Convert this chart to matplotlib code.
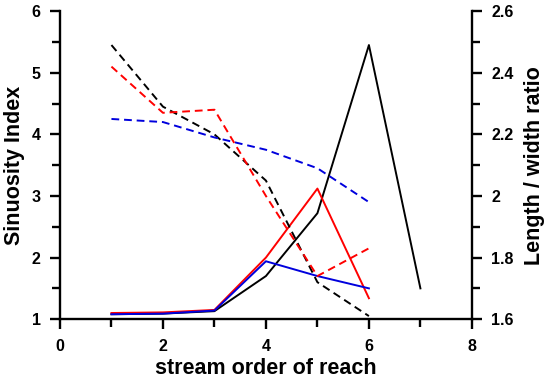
import matplotlib
matplotlib.use("Agg")
import matplotlib.pyplot as plt
from matplotlib.ticker import MultipleLocator

plt.rcParams['font.family'] = ['Liberation Sans', 'DejaVu Sans']
plt.rcParams['font.weight'] = 'bold'

# stream order
order = [1, 2, 3, 4, 5, 6, 7]

# sinuosity index (left axis, solid)
sin_black = [1.08, 1.09, 1.13, 1.70, 2.72, 5.45, 1.50]
sin_red = [1.10, 1.11, 1.15, 2.00, 3.12, 1.34]
sin_blue = [1.08, 1.09, 1.14, 1.94, 1.70, 1.50]

# length / width ratio (right axis, dashed)
lw_black = [2.49, 2.29, 2.20, 2.05, 1.72, 1.61]
lw_red = [2.42, 2.27, 2.28, 2.00, 1.74, 1.83]
lw_blue = [2.25, 2.24, 2.19, 2.15, 2.09, 1.98]

fig = plt.figure(figsize=(5.5, 3.85), dpi=100)
ax = fig.add_axes([0.109, 0.171, 0.749, 0.80])
ax2 = ax.twinx()

lw = 1.4
dash = (0, (4, 2.5))
ax.plot(order, sin_black, color='black', lw=lw)
ax.plot(order[:6], sin_red, color='red', lw=lw)
ax.plot(order[:6], sin_blue, color='#0000dd', lw=lw)

ax2.plot(order[:6], lw_black, color='black', lw=lw, linestyle=dash)
ax2.plot(order[:6], lw_red, color='red', lw=lw, linestyle=dash)
ax2.plot(order[:6], lw_blue, color='#0000dd', lw=lw, linestyle=dash)

ax.set_xlim(0, 8)
ax.set_ylim(1, 6)
ax2.set_ylim(1.6, 2.6)

ax.xaxis.set_major_locator(MultipleLocator(2))
ax.xaxis.set_minor_locator(MultipleLocator(1))
ax.yaxis.set_major_locator(MultipleLocator(1))
ax.yaxis.set_minor_locator(MultipleLocator(0.5))
ax2.yaxis.set_major_locator(MultipleLocator(0.2))
ax2.yaxis.set_minor_locator(MultipleLocator(0.1))
ax2.set_yticks([1.6, 1.8, 2.0, 2.2, 2.4, 2.6], ['1.6', '1.8', '2', '2.2', '2.4', '2.6'])

for a in (ax, ax2):
    a.spines['top'].set_visible(False)
    for s in a.spines.values():
        s.set_linewidth(1.7)
    a.tick_params(which='major', direction='out', length=7, width=1.7, labelsize=11.5, pad=7)
    a.tick_params(which='minor', direction='out', length=6, width=1.7)
ax.spines['right'].set_visible(False)
ax2.spines['left'].set_visible(False)
ax2.spines['bottom'].set_visible(False)

ax.set_xlabel('stream order of reach', fontsize=15.5, fontweight='bold', labelpad=3)
ax.set_ylabel('Sinuosity Index', fontsize=15.5, fontweight='bold', labelpad=5)
ax2.set_ylabel('Length / width ratio', fontsize=15.5, fontweight='bold', labelpad=7)

fig.savefig('out.png', dpi=100)
